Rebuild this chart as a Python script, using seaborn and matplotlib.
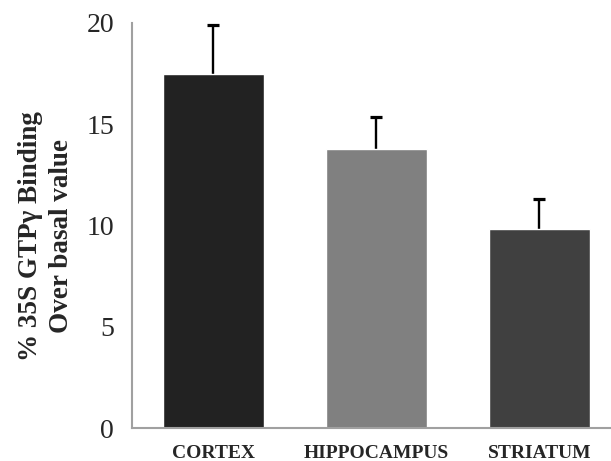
import matplotlib
matplotlib.use("Agg")
import matplotlib.pyplot as plt
import seaborn as sns
import numpy as np
import pandas as pd

# Data
regions = ["CORTEX", "HIPPOCAMPUS", "STRIATUM"]
binding = [17.5, 13.8, 9.85]
sem = [2.4, 1.55, 1.45]
bar_colors = ["#222222", "#808080", "#404040"]
y_ticks = [0, 5, 10, 15, 20]

sns.set_style("white")
plt.rcParams["font.family"] = ["Liberation Serif", "DejaVu Serif"]

fig = plt.figure(figsize=(6.11, 4.61), dpi=100)
ax = fig.add_axes([132 / 611, 1 - 428 / 461, 489 / 611, 405 / 461])

df = pd.DataFrame({"region": regions, "binding": binding})
sns.barplot(data=df, x="region", y="binding", hue="region", order=regions,
            palette=bar_colors, width=0.62, legend=False, saturation=1,
            errorbar=None, ax=ax)
for patch in ax.patches:
    patch.set_zorder(2)

# Upper error bars only: the lower half sits behind the bars
x = np.arange(len(regions))
ax.errorbar(x, binding, yerr=sem, fmt="none",
            ecolor="black", elinewidth=1.7, capsize=4.5, capthick=2.3, zorder=1)

ax.set_ylim(0, 20)
ax.set_xlim(-0.5, 2.5)
ax.set_yticks(y_ticks)
ax.set_yticklabels([str(t) for t in y_ticks], fontsize=20)
ax.set_xticks([-0.5, 0.5, 1.5, 2.5], minor=False)
ax.set_xticklabels([])
ax.set_xticks(x, minor=True)
ax.set_xticklabels(regions, minor=True, fontsize=14, fontweight="bold")
ax.tick_params(axis="x", which="minor", length=0, pad=12.5)
ax.tick_params(axis="x", which="major", direction="out", length=6,
               width=1.5, color="#a0a0a0")
ax.tick_params(axis="y", direction="out", length=7, width=1.5,
               color="#a0a0a0", pad=6)

for side in ["top", "right"]:
    ax.spines[side].set_visible(False)
for side in ["left", "bottom"]:
    ax.spines[side].set_color("#a0a0a0")
    ax.spines[side].set_linewidth(1.5)

ax.set_xlabel("")
ax.set_ylabel("% 35S GTPγ Binding\nOver basal value", fontsize=19.5,
              fontweight="bold", linespacing=1.35)
ax.yaxis.set_label_coords(-0.118, 0.474)

fig.savefig("out.png", dpi=100)
